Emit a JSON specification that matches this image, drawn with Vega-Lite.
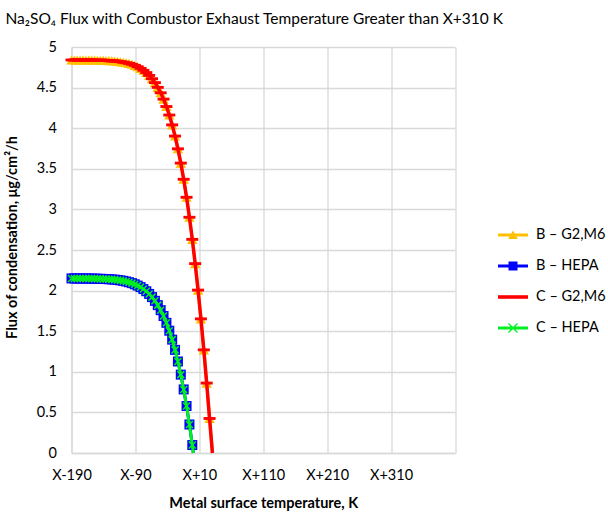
{
 "$schema": "https://vega.github.io/schema/vega-lite/v6.json",
 "width": 383.5,
 "height": 406,
 "autosize": {"type": "none"},
 "padding": {"left": 71.5, "top": 47, "right": 153, "bottom": 63},
 "background": "white",
 "config": {"view": {"stroke": null}, "font": "Lato"},
 "title": {"text": "Na₂SO₄ Flux with Combustor Exhaust Temperature Greater than X+310 K", "anchor": "start", "frame": "group", "dx": -66, "offset": 12, "font": "Lato", "fontSize": 15.5, "fontWeight": "normal", "color": "#000"},
 "data": {"values": [
  {"T": -190, "B_G2M6": 4.84, "C_G2M6": 4.84, "B_HEPA": 2.15, "C_HEPA": 2.15},
  {"T": -185.5, "B_G2M6": 4.84, "C_G2M6": 4.84, "B_HEPA": 2.15, "C_HEPA": 2.15},
  {"T": -181, "B_G2M6": 4.84, "C_G2M6": 4.84, "B_HEPA": 2.149, "C_HEPA": 2.149},
  {"T": -176.5, "B_G2M6": 4.84, "C_G2M6": 4.84, "B_HEPA": 2.149, "C_HEPA": 2.149},
  {"T": -172, "B_G2M6": 4.839, "C_G2M6": 4.839, "B_HEPA": 2.149, "C_HEPA": 2.149},
  {"T": -167.5, "B_G2M6": 4.839, "C_G2M6": 4.839, "B_HEPA": 2.149, "C_HEPA": 2.149},
  {"T": -163, "B_G2M6": 4.839, "C_G2M6": 4.839, "B_HEPA": 2.148, "C_HEPA": 2.148},
  {"T": -158.5, "B_G2M6": 4.839, "C_G2M6": 4.839, "B_HEPA": 2.148, "C_HEPA": 2.148},
  {"T": -154, "B_G2M6": 4.838, "C_G2M6": 4.838, "B_HEPA": 2.147, "C_HEPA": 2.147},
  {"T": -149.5, "B_G2M6": 4.837, "C_G2M6": 4.837, "B_HEPA": 2.146, "C_HEPA": 2.146},
  {"T": -145, "B_G2M6": 4.837, "C_G2M6": 4.837, "B_HEPA": 2.145, "C_HEPA": 2.145},
  {"T": -140.5, "B_G2M6": 4.836, "C_G2M6": 4.836, "B_HEPA": 2.144, "C_HEPA": 2.144},
  {"T": -136, "B_G2M6": 4.834, "C_G2M6": 4.834, "B_HEPA": 2.142, "C_HEPA": 2.142},
  {"T": -131.5, "B_G2M6": 4.832, "C_G2M6": 4.832, "B_HEPA": 2.14, "C_HEPA": 2.14},
  {"T": -127, "B_G2M6": 4.83, "C_G2M6": 4.83, "B_HEPA": 2.138, "C_HEPA": 2.138},
  {"T": -122.5, "B_G2M6": 4.827, "C_G2M6": 4.827, "B_HEPA": 2.135, "C_HEPA": 2.135},
  {"T": -118, "B_G2M6": 4.824, "C_G2M6": 4.824, "B_HEPA": 2.131, "C_HEPA": 2.131},
  {"T": -113.5, "B_G2M6": 4.819, "C_G2M6": 4.819, "B_HEPA": 2.126, "C_HEPA": 2.126},
  {"T": -109, "B_G2M6": 4.813, "C_G2M6": 4.813, "B_HEPA": 2.12, "C_HEPA": 2.12},
  {"T": -104.5, "B_G2M6": 4.806, "C_G2M6": 4.806, "B_HEPA": 2.112, "C_HEPA": 2.112},
  {"T": -100, "B_G2M6": 4.798, "C_G2M6": 4.798, "B_HEPA": 2.103, "C_HEPA": 2.103},
  {"T": -95.5, "B_G2M6": 4.787, "C_G2M6": 4.787, "B_HEPA": 2.092, "C_HEPA": 2.092},
  {"T": -91, "B_G2M6": 4.774, "C_G2M6": 4.774, "B_HEPA": 2.078, "C_HEPA": 2.078},
  {"T": -86.5, "B_G2M6": 4.757, "C_G2M6": 4.757, "B_HEPA": 2.062, "C_HEPA": 2.062},
  {"T": -82, "B_G2M6": 4.737, "C_G2M6": 4.737, "B_HEPA": 2.043, "C_HEPA": 2.043},
  {"T": -77.5, "B_G2M6": 4.713, "C_G2M6": 4.713, "B_HEPA": 2.019, "C_HEPA": 2.019},
  {"T": -73, "B_G2M6": 4.685, "C_G2M6": 4.685, "B_HEPA": 1.992, "C_HEPA": 1.992},
  {"T": -68.5, "B_G2M6": 4.65, "C_G2M6": 4.65, "B_HEPA": 1.959, "C_HEPA": 1.959},
  {"T": -64, "B_G2M6": 4.609, "C_G2M6": 4.609, "B_HEPA": 1.92, "C_HEPA": 1.92},
  {"T": -59.5, "B_G2M6": 4.561, "C_G2M6": 4.561, "B_HEPA": 1.874, "C_HEPA": 1.874},
  {"T": -55, "B_G2M6": 4.503, "C_G2M6": 4.503, "B_HEPA": 1.821, "C_HEPA": 1.821},
  {"T": -50.5, "B_G2M6": 4.436, "C_G2M6": 4.436, "B_HEPA": 1.759, "C_HEPA": 1.759},
  {"T": -46, "B_G2M6": 4.358, "C_G2M6": 4.358, "B_HEPA": 1.687, "C_HEPA": 1.687},
  {"T": -41.5, "B_G2M6": 4.267, "C_G2M6": 4.267, "B_HEPA": 1.603, "C_HEPA": 1.603},
  {"T": -37, "B_G2M6": 4.162, "C_G2M6": 4.162, "B_HEPA": 1.506, "C_HEPA": 1.506},
  {"T": -32.5, "B_G2M6": 4.041, "C_G2M6": 4.041, "B_HEPA": 1.396, "C_HEPA": 1.396},
  {"T": -28, "B_G2M6": 3.903, "C_G2M6": 3.903, "B_HEPA": 1.27, "C_HEPA": 1.27},
  {"T": -23.5, "B_G2M6": 3.746, "C_G2M6": 3.746, "B_HEPA": 1.127, "C_HEPA": 1.127},
  {"T": -19, "B_G2M6": 3.57, "C_G2M6": 3.57, "B_HEPA": 0.965, "C_HEPA": 0.965},
  {"T": -14.5, "B_G2M6": 3.371, "C_G2M6": 3.371, "B_HEPA": 0.783, "C_HEPA": 0.783},
  {"T": -10, "B_G2M6": 3.149, "C_G2M6": 3.149, "B_HEPA": 0.579, "C_HEPA": 0.579},
  {"T": -5.5, "B_G2M6": 2.903, "C_G2M6": 2.903, "B_HEPA": 0.351, "C_HEPA": 0.351},
  {"T": -1, "B_G2M6": 2.631, "C_G2M6": 2.631, "B_HEPA": 0.098, "C_HEPA": 0.098},
  {"T": 0.6, "B_HEPA": 0, "C_HEPA": 0},
  {"T": 3.5, "B_G2M6": 2.332, "C_G2M6": 2.332},
  {"T": 8, "B_G2M6": 2.006, "C_G2M6": 2.006},
  {"T": 12.5, "B_G2M6": 1.652, "C_G2M6": 1.652},
  {"T": 17, "B_G2M6": 1.27, "C_G2M6": 1.27},
  {"T": 21.5, "B_G2M6": 0.861, "C_G2M6": 0.861},
  {"T": 26, "B_G2M6": 0.425, "C_G2M6": 0.425},
  {"T": 30.5, "B_G2M6": 0, "C_G2M6": 0}
 ]},
 "transform": [
  {"fold": ["B_G2M6", "B_HEPA", "C_G2M6", "C_HEPA"], "as": ["series", "flux"]},
  {"filter": "isValid(datum.flux)"}
 ],
 "encoding": {
  "x": {"field": "T", "type": "quantitative", "scale": {"domain": [-190, 410], "nice": false, "zero": false},
   "axis": {"values": [-190, -90, 10, 110, 210, 310, 410], "labelExpr": "datum.value > 400 ? '' : (datum.value < 0 ? 'X' + datum.value : 'X+' + datum.value)", "title": "Metal surface temperature, K", "grid": true, "gridColor": "#d9d9d9", "gridWidth": 1.3, "domainColor": "#d9d9d9", "domainWidth": 1.3, "ticks": false, "labelFont": "Lato", "labelFontSize": 14.5, "labelColor": "#000", "labelPadding": 15, "labelFlush": false, "labelOverlap": false, "titleFont": "Lato", "titleFontSize": 14.5, "titleFontWeight": "bold", "titleColor": "#000", "titlePadding": 15}},
  "y": {"field": "flux", "type": "quantitative", "scale": {"domain": [0, 5], "nice": false},
   "axis": {"values": [0, 0.5, 1, 1.5, 2, 2.5, 3, 3.5, 4, 4.5, 5], "format": "~g", "title": "Flux of condensation, μg/cm²/h", "grid": true, "gridColor": "#d9d9d9", "gridWidth": 1.3, "domainColor": "#d9d9d9", "domainWidth": 1.3, "ticks": false, "labelFont": "Lato", "labelFontSize": 14.5, "labelColor": "#000", "labelPadding": 15, "labelOverlap": false, "titleFont": "Lato", "titleFontSize": 14.5, "titleFontWeight": "bold", "titleColor": "#000", "titlePadding": 17, "titleY": 190}}
 },
 "layer": [
  {"transform": [{"filter": "datum.series == 'B_G2M6'"}], "mark": {"type": "line", "color": "#FFC000", "strokeWidth": 3}},
  {"transform": [{"filter": "datum.series == 'B_G2M6' && datum.flux > 0.02"}], "mark": {"type": "point", "shape": "triangle-up", "filled": true, "color": "#FFC000", "size": 110, "opacity": 1}},
  {"transform": [{"filter": "datum.series == 'B_HEPA'"}], "mark": {"type": "line", "color": "#0000FF", "strokeWidth": 3}},
  {"transform": [{"filter": "datum.series == 'B_HEPA' && datum.flux > 0.02"}], "mark": {"type": "point", "shape": "square", "filled": true, "color": "#0000FF", "size": 100, "opacity": 1}},
  {"transform": [{"filter": "datum.series == 'C_G2M6'"}], "mark": {"type": "line", "color": "#FF0000", "strokeWidth": 3.5}},
  {"transform": [{"filter": "datum.series == 'C_G2M6' && datum.flux > 0.02"}], "mark": {"type": "point", "shape": "M-1,-0.24H1V0.24H-1Z", "filled": true, "color": "#FF0000", "size": 144, "opacity": 1}},
  {"transform": [{"filter": "datum.series == 'C_HEPA'"}], "mark": {"type": "line", "color": "#00F020", "strokeWidth": 3}},
  {"transform": [{"filter": "datum.series == 'C_HEPA' && datum.flux > 0.02"}], "mark": {"type": "point", "shape": "M-1,-1L1,1M-1,1L1,-1", "filled": false, "color": "#00F020", "strokeWidth": 1.5, "size": 49, "opacity": 1}},
  {"transform": [{"filter": "datum.T < -1000"}], "mark": {"type": "point", "filled": true, "opacity": 1},
   "encoding": {
    "color": {"field": "series", "type": "nominal", "scale": {"domain": ["B_G2M6", "B_HEPA", "C_G2M6", "C_HEPA"], "range": ["#FFC000", "#0000FF", "#FF0000", "#00F020"]},
     "legend": {"title": null, "orient": "none", "legendX": 425.5, "legendY": 172, "symbolSize": 900, "padding": 0, "rowPadding": 8, "labelOffset": 7, "labelFont": "Lato", "labelFontSize": 14.5, "labelColor": "#000", "labelExpr": "datum.label == 'B_G2M6' ? 'B – G2,M6' : datum.label == 'B_HEPA' ? 'B – HEPA' : datum.label == 'C_G2M6' ? 'C – G2,M6' : 'C – HEPA'"}},
    "shape": {"field": "series", "type": "nominal", "scale": {"domain": ["B_G2M6", "B_HEPA", "C_G2M6", "C_HEPA"], "range": [
      "M-1,-0.1H1V0.1H-1Z M-0.32,0.27L0,-0.3L0.32,0.27Z",
      "M-1,-0.1H1V0.1H-1Z M-0.3,-0.3H0.3V0.3H-0.3Z",
      "M-1,-0.12H1V0.12H-1Z",
      "M-1,-0.1H1V0.1H-1Z M-0.332,-0.268L-0.268,-0.332L0.332,0.268L0.268,0.332Z M-0.268,0.332L-0.332,0.268L0.268,-0.332L0.332,-0.268Z"]},
     "legend": {"title": null, "orient": "none", "legendX": 425.5, "legendY": 172, "symbolSize": 900, "padding": 0, "rowPadding": 8, "labelOffset": 7, "labelFont": "Lato", "labelFontSize": 14.5, "labelColor": "#000", "labelExpr": "datum.label == 'B_G2M6' ? 'B – G2,M6' : datum.label == 'B_HEPA' ? 'B – HEPA' : datum.label == 'C_G2M6' ? 'C – G2,M6' : 'C – HEPA'"}}
   }}
 ]
}
